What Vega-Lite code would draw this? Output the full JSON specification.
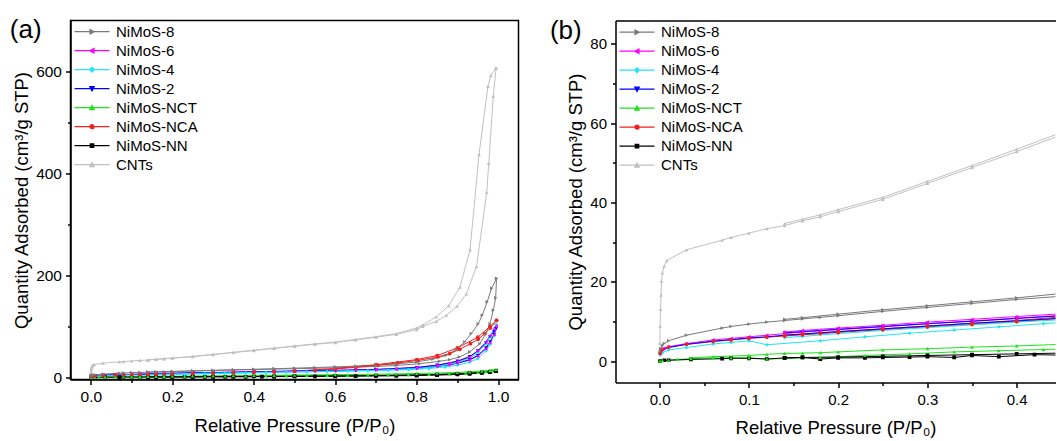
{
  "$schema": "https://vega.github.io/schema/vega-lite/v6.json",
  "background": "white",
  "padding": {"left": 8.5, "top": 16.5, "right": 0, "bottom": 0},
  "config": {
    "font": "Liberation Sans",
    "view": {"stroke": "black", "strokeWidth": 1.5},
    "axis": {"grid": false, "domainColor": "black", "domainWidth": 1.5, "tickColor": "black", "tickWidth": 1.5, "labelColor": "black", "titleColor": "black", "titleFontWeight": "normal", "titleFontSize": 18.5, "labelFontSize": 15.5, "labelFont": "Liberation Sans", "titleFont": "Liberation Sans"},
    "legend": {"labelFont": "Liberation Sans", "labelFontSize": 15, "labelColor": "black"}
  },
  "datasets": {
    "iso": [
      {"s":"CNTs","b":"a","p":0.0002,"q":4.6},{"s":"CNTs","b":"a","p":0.0005,"q":8.9},{"s":"CNTs","b":"a","p":0.001,"q":13.1},{"s":"CNTs","b":"a","p":0.0015,"q":16.7},{"s":"CNTs","b":"a","p":0.002,"q":20.2},{"s":"CNTs","b":"a","p":0.003,"q":22.3},{"s":"CNTs","b":"a","p":0.005,"q":24.0},{"s":"CNTs","b":"a","p":0.008,"q":25.4},{"s":"CNTs","b":"a","p":0.03,"q":28.1},{"s":"CNTs","b":"a","p":0.07,"q":30.5},{"s":"CNTs","b":"a","p":0.08,"q":31.2},{"s":"CNTs","b":"a","p":0.1,"q":32.3},{"s":"CNTs","b":"a","p":0.12,"q":33.4},{"s":"CNTs","b":"a","p":0.14,"q":34.2},{"s":"CNTs","b":"a","p":0.16,"q":35.4},{"s":"CNTs","b":"a","p":0.18,"q":36.4},{"s":"CNTs","b":"a","p":0.2,"q":37.7},{"s":"CNTs","b":"a","p":0.25,"q":40.8},{"s":"CNTs","b":"a","p":0.3,"q":44.8},{"s":"CNTs","b":"a","p":0.35,"q":48.8},{"s":"CNTs","b":"a","p":0.4,"q":52.8},{"s":"CNTs","b":"a","p":0.45,"q":57.0},{"s":"CNTs","b":"a","p":0.5,"q":61.0},{"s":"CNTs","b":"a","p":0.55,"q":65.0},{"s":"CNTs","b":"a","p":0.6,"q":68.5},{"s":"CNTs","b":"a","p":0.65,"q":73.5},{"s":"CNTs","b":"a","p":0.7,"q":79.0},{"s":"CNTs","b":"a","p":0.75,"q":84.5},{"s":"CNTs","b":"a","p":0.8,"q":94},{"s":"CNTs","b":"a","p":0.815,"q":100},{"s":"CNTs","b":"a","p":0.848,"q":110},{"s":"CNTs","b":"a","p":0.873,"q":122},{"s":"CNTs","b":"a","p":0.899,"q":140},{"s":"CNTs","b":"a","p":0.922,"q":164},{"s":"CNTs","b":"a","p":0.947,"q":218},{"s":"CNTs","b":"a","p":0.972,"q":363},{"s":"CNTs","b":"a","p":0.977,"q":420},{"s":"CNTs","b":"a","p":0.988,"q":551},{"s":"CNTs","b":"a","p":0.995,"q":607},
      {"s":"CNTs","b":"d","p":0.995,"q":607},{"s":"CNTs","b":"d","p":0.982,"q":592},{"s":"CNTs","b":"d","p":0.975,"q":571},{"s":"CNTs","b":"d","p":0.953,"q":437},{"s":"CNTs","b":"d","p":0.931,"q":250},{"s":"CNTs","b":"d","p":0.906,"q":177},{"s":"CNTs","b":"d","p":0.879,"q":141},{"s":"CNTs","b":"d","p":0.848,"q":118.6},{"s":"CNTs","b":"d","p":0.815,"q":103},{"s":"CNTs","b":"d","p":0.8,"q":97},{"s":"CNTs","b":"d","p":0.75,"q":86},{"s":"CNTs","b":"d","p":0.7,"q":80},{"s":"CNTs","b":"d","p":0.65,"q":74.5},{"s":"CNTs","b":"d","p":0.6,"q":69.5},{"s":"CNTs","b":"d","p":0.55,"q":65.8},{"s":"CNTs","b":"d","p":0.5,"q":61.8},{"s":"CNTs","b":"d","p":0.45,"q":57.6},{"s":"CNTs","b":"d","p":0.4,"q":53.4},{"s":"CNTs","b":"d","p":0.35,"q":49.3},{"s":"CNTs","b":"d","p":0.3,"q":45.3},{"s":"CNTs","b":"d","p":0.25,"q":41.3},{"s":"CNTs","b":"d","p":0.2,"q":38.2},{"s":"CNTs","b":"d","p":0.18,"q":36.9},{"s":"CNTs","b":"d","p":0.16,"q":35.8},{"s":"CNTs","b":"d","p":0.14,"q":34.7},

      {"s":"NiMoS-8","b":"a","p":0.0005,"q":2.5},{"s":"NiMoS-8","b":"a","p":0.001,"q":3.2},{"s":"NiMoS-8","b":"a","p":0.003,"q":4.0},{"s":"NiMoS-8","b":"a","p":0.005,"q":4.5},{"s":"NiMoS-8","b":"a","p":0.01,"q":5.2},{"s":"NiMoS-8","b":"a","p":0.03,"q":6.6},{"s":"NiMoS-8","b":"a","p":0.07,"q":8.4},{"s":"NiMoS-8","b":"a","p":0.08,"q":8.8},{"s":"NiMoS-8","b":"a","p":0.1,"q":9.4},{"s":"NiMoS-8","b":"a","p":0.12,"q":9.9},{"s":"NiMoS-8","b":"a","p":0.14,"q":10.3},{"s":"NiMoS-8","b":"a","p":0.16,"q":10.7},{"s":"NiMoS-8","b":"a","p":0.18,"q":11.1},{"s":"NiMoS-8","b":"a","p":0.2,"q":11.5},{"s":"NiMoS-8","b":"a","p":0.25,"q":12.6},{"s":"NiMoS-8","b":"a","p":0.3,"q":13.6},{"s":"NiMoS-8","b":"a","p":0.35,"q":14.6},{"s":"NiMoS-8","b":"a","p":0.4,"q":15.6},{"s":"NiMoS-8","b":"a","p":0.45,"q":16.4},{"s":"NiMoS-8","b":"a","p":0.5,"q":17.2},{"s":"NiMoS-8","b":"a","p":0.55,"q":18.0},{"s":"NiMoS-8","b":"a","p":0.6,"q":19.0},{"s":"NiMoS-8","b":"a","p":0.65,"q":20.2},{"s":"NiMoS-8","b":"a","p":0.7,"q":21.6},{"s":"NiMoS-8","b":"a","p":0.75,"q":23.5},{"s":"NiMoS-8","b":"a","p":0.807,"q":27},{"s":"NiMoS-8","b":"a","p":0.856,"q":31.7},{"s":"NiMoS-8","b":"a","p":0.881,"q":34.9},{"s":"NiMoS-8","b":"a","p":0.905,"q":40.2},{"s":"NiMoS-8","b":"a","p":0.93,"q":50},{"s":"NiMoS-8","b":"a","p":0.955,"q":66},{"s":"NiMoS-8","b":"a","p":0.97,"q":86},{"s":"NiMoS-8","b":"a","p":0.98,"q":105},{"s":"NiMoS-8","b":"a","p":0.988,"q":132},{"s":"NiMoS-8","b":"a","p":0.994,"q":156},{"s":"NiMoS-8","b":"a","p":0.996,"q":194},
      {"s":"NiMoS-8","b":"d","p":0.996,"q":194},{"s":"NiMoS-8","b":"d","p":0.984,"q":175},{"s":"NiMoS-8","b":"d","p":0.973,"q":148},{"s":"NiMoS-8","b":"d","p":0.961,"q":122},{"s":"NiMoS-8","b":"d","p":0.951,"q":105},{"s":"NiMoS-8","b":"d","p":0.934,"q":86},{"s":"NiMoS-8","b":"d","p":0.918,"q":70},{"s":"NiMoS-8","b":"d","p":0.897,"q":55},{"s":"NiMoS-8","b":"d","p":0.872,"q":43.5},{"s":"NiMoS-8","b":"d","p":0.84,"q":36},{"s":"NiMoS-8","b":"d","p":0.8,"q":30.4},{"s":"NiMoS-8","b":"d","p":0.75,"q":26.5},{"s":"NiMoS-8","b":"d","p":0.7,"q":24},{"s":"NiMoS-8","b":"d","p":0.65,"q":22.2},{"s":"NiMoS-8","b":"d","p":0.6,"q":20.8},{"s":"NiMoS-8","b":"d","p":0.55,"q":19.5},{"s":"NiMoS-8","b":"d","p":0.5,"q":18.3},{"s":"NiMoS-8","b":"d","p":0.45,"q":17.1},{"s":"NiMoS-8","b":"d","p":0.4,"q":16.0},{"s":"NiMoS-8","b":"d","p":0.35,"q":15.0},{"s":"NiMoS-8","b":"d","p":0.3,"q":14.0},{"s":"NiMoS-8","b":"d","p":0.25,"q":13.0},{"s":"NiMoS-8","b":"d","p":0.2,"q":11.9},{"s":"NiMoS-8","b":"d","p":0.16,"q":11.0},{"s":"NiMoS-8","b":"d","p":0.14,"q":10.6},

      {"s":"NiMoS-NCA","b":"a","p":0.0005,"q":2.0},{"s":"NiMoS-NCA","b":"a","p":0.003,"q":3.0},{"s":"NiMoS-NCA","b":"a","p":0.01,"q":3.6},{"s":"NiMoS-NCA","b":"a","p":0.03,"q":4.3},{"s":"NiMoS-NCA","b":"a","p":0.06,"q":5.0},{"s":"NiMoS-NCA","b":"a","p":0.08,"q":5.4},{"s":"NiMoS-NCA","b":"a","p":0.1,"q":5.8},{"s":"NiMoS-NCA","b":"a","p":0.12,"q":6.1},{"s":"NiMoS-NCA","b":"a","p":0.14,"q":6.4},{"s":"NiMoS-NCA","b":"a","p":0.16,"q":6.7},{"s":"NiMoS-NCA","b":"a","p":0.18,"q":7.0},{"s":"NiMoS-NCA","b":"a","p":0.2,"q":7.3},{"s":"NiMoS-NCA","b":"a","p":0.25,"q":8.0},{"s":"NiMoS-NCA","b":"a","p":0.3,"q":8.7},{"s":"NiMoS-NCA","b":"a","p":0.35,"q":9.3},{"s":"NiMoS-NCA","b":"a","p":0.4,"q":10.0},{"s":"NiMoS-NCA","b":"a","p":0.45,"q":10.8},{"s":"NiMoS-NCA","b":"a","p":0.5,"q":12.0},{"s":"NiMoS-NCA","b":"a","p":0.55,"q":14.0},{"s":"NiMoS-NCA","b":"a","p":0.6,"q":16.5},{"s":"NiMoS-NCA","b":"a","p":0.651,"q":20.0},{"s":"NiMoS-NCA","b":"a","p":0.704,"q":24.0},{"s":"NiMoS-NCA","b":"a","p":0.753,"q":28.4},{"s":"NiMoS-NCA","b":"a","p":0.803,"q":33.5},{"s":"NiMoS-NCA","b":"a","p":0.852,"q":40.2},{"s":"NiMoS-NCA","b":"a","p":0.881,"q":46.6},{"s":"NiMoS-NCA","b":"a","p":0.906,"q":55.3},{"s":"NiMoS-NCA","b":"a","p":0.932,"q":66.2},{"s":"NiMoS-NCA","b":"a","p":0.951,"q":74.8},{"s":"NiMoS-NCA","b":"a","p":0.967,"q":85.8},{"s":"NiMoS-NCA","b":"a","p":0.981,"q":97},{"s":"NiMoS-NCA","b":"a","p":0.996,"q":112},
      {"s":"NiMoS-NCA","b":"d","p":0.996,"q":112},{"s":"NiMoS-NCA","b":"d","p":0.98,"q":100},{"s":"NiMoS-NCA","b":"d","p":0.95,"q":79},{"s":"NiMoS-NCA","b":"d","p":0.9,"q":58},{"s":"NiMoS-NCA","b":"d","p":0.85,"q":43},{"s":"NiMoS-NCA","b":"d","p":0.8,"q":35},{"s":"NiMoS-NCA","b":"d","p":0.7,"q":25},{"s":"NiMoS-NCA","b":"d","p":0.6,"q":17.5},{"s":"NiMoS-NCA","b":"d","p":0.5,"q":12.6},{"s":"NiMoS-NCA","b":"d","p":0.45,"q":11.2},{"s":"NiMoS-NCA","b":"d","p":0.4,"q":10.3},{"s":"NiMoS-NCA","b":"d","p":0.35,"q":9.6},{"s":"NiMoS-NCA","b":"d","p":0.3,"q":8.9},{"s":"NiMoS-NCA","b":"d","p":0.25,"q":8.2},{"s":"NiMoS-NCA","b":"d","p":0.2,"q":7.5},{"s":"NiMoS-NCA","b":"d","p":0.16,"q":6.9},{"s":"NiMoS-NCA","b":"d","p":0.14,"q":6.6},

      {"s":"NiMoS-6","b":"a","p":0.0005,"q":2.2},{"s":"NiMoS-6","b":"a","p":0.002,"q":2.8},{"s":"NiMoS-6","b":"a","p":0.005,"q":3.3},{"s":"NiMoS-6","b":"a","p":0.01,"q":3.7},{"s":"NiMoS-6","b":"a","p":0.03,"q":4.5},{"s":"NiMoS-6","b":"a","p":0.06,"q":5.4},{"s":"NiMoS-6","b":"a","p":0.08,"q":5.8},{"s":"NiMoS-6","b":"a","p":0.1,"q":6.2},{"s":"NiMoS-6","b":"a","p":0.12,"q":6.6},{"s":"NiMoS-6","b":"a","p":0.14,"q":7.0},{"s":"NiMoS-6","b":"a","p":0.16,"q":7.4},{"s":"NiMoS-6","b":"a","p":0.18,"q":7.7},{"s":"NiMoS-6","b":"a","p":0.2,"q":8.0},{"s":"NiMoS-6","b":"a","p":0.25,"q":8.7},{"s":"NiMoS-6","b":"a","p":0.3,"q":9.5},{"s":"NiMoS-6","b":"a","p":0.35,"q":10.2},{"s":"NiMoS-6","b":"a","p":0.4,"q":10.9},{"s":"NiMoS-6","b":"a","p":0.45,"q":11.6},{"s":"NiMoS-6","b":"a","p":0.5,"q":12.2},{"s":"NiMoS-6","b":"a","p":0.55,"q":12.9},{"s":"NiMoS-6","b":"a","p":0.6,"q":13.6},{"s":"NiMoS-6","b":"a","p":0.65,"q":14.4},{"s":"NiMoS-6","b":"a","p":0.7,"q":15.3},{"s":"NiMoS-6","b":"a","p":0.75,"q":16.5},{"s":"NiMoS-6","b":"a","p":0.8,"q":18.5},{"s":"NiMoS-6","b":"a","p":0.85,"q":22},{"s":"NiMoS-6","b":"a","p":0.88,"q":25},{"s":"NiMoS-6","b":"a","p":0.9,"q":28},{"s":"NiMoS-6","b":"a","p":0.93,"q":34},{"s":"NiMoS-6","b":"a","p":0.95,"q":42},{"s":"NiMoS-6","b":"a","p":0.97,"q":56},{"s":"NiMoS-6","b":"a","p":0.98,"q":68},{"s":"NiMoS-6","b":"a","p":0.99,"q":84},{"s":"NiMoS-6","b":"a","p":0.995,"q":100},
      {"s":"NiMoS-6","b":"d","p":0.995,"q":100},{"s":"NiMoS-6","b":"d","p":0.99,"q":94},{"s":"NiMoS-6","b":"d","p":0.98,"q":82},{"s":"NiMoS-6","b":"d","p":0.97,"q":70},{"s":"NiMoS-6","b":"d","p":0.95,"q":52},{"s":"NiMoS-6","b":"d","p":0.93,"q":40},{"s":"NiMoS-6","b":"d","p":0.9,"q":31},{"s":"NiMoS-6","b":"d","p":0.88,"q":27.5},{"s":"NiMoS-6","b":"d","p":0.85,"q":24},{"s":"NiMoS-6","b":"d","p":0.8,"q":20},{"s":"NiMoS-6","b":"d","p":0.75,"q":17.5},{"s":"NiMoS-6","b":"d","p":0.7,"q":16},{"s":"NiMoS-6","b":"d","p":0.6,"q":14.2},{"s":"NiMoS-6","b":"d","p":0.5,"q":12.8},{"s":"NiMoS-6","b":"d","p":0.45,"q":12.0},{"s":"NiMoS-6","b":"d","p":0.4,"q":11.3},{"s":"NiMoS-6","b":"d","p":0.35,"q":10.6},{"s":"NiMoS-6","b":"d","p":0.3,"q":9.9},{"s":"NiMoS-6","b":"d","p":0.25,"q":9.1},{"s":"NiMoS-6","b":"d","p":0.2,"q":8.4},{"s":"NiMoS-6","b":"d","p":0.16,"q":7.8},{"s":"NiMoS-6","b":"d","p":0.14,"q":7.4},

      {"s":"NiMoS-2","b":"a","p":0.0005,"q":2.0},{"s":"NiMoS-2","b":"a","p":0.002,"q":2.6},{"s":"NiMoS-2","b":"a","p":0.005,"q":3.1},{"s":"NiMoS-2","b":"a","p":0.01,"q":3.5},{"s":"NiMoS-2","b":"a","p":0.03,"q":4.3},{"s":"NiMoS-2","b":"a","p":0.06,"q":5.1},{"s":"NiMoS-2","b":"a","p":0.08,"q":5.5},{"s":"NiMoS-2","b":"a","p":0.1,"q":5.9},{"s":"NiMoS-2","b":"a","p":0.12,"q":6.2},{"s":"NiMoS-2","b":"a","p":0.14,"q":6.6},{"s":"NiMoS-2","b":"a","p":0.16,"q":6.9},{"s":"NiMoS-2","b":"a","p":0.18,"q":7.2},{"s":"NiMoS-2","b":"a","p":0.2,"q":7.5},{"s":"NiMoS-2","b":"a","p":0.25,"q":8.2},{"s":"NiMoS-2","b":"a","p":0.3,"q":8.9},{"s":"NiMoS-2","b":"a","p":0.35,"q":9.6},{"s":"NiMoS-2","b":"a","p":0.4,"q":10.2},{"s":"NiMoS-2","b":"a","p":0.45,"q":10.9},{"s":"NiMoS-2","b":"a","p":0.5,"q":11.5},{"s":"NiMoS-2","b":"a","p":0.55,"q":12.1},{"s":"NiMoS-2","b":"a","p":0.6,"q":12.8},{"s":"NiMoS-2","b":"a","p":0.65,"q":13.6},{"s":"NiMoS-2","b":"a","p":0.7,"q":14.5},{"s":"NiMoS-2","b":"a","p":0.75,"q":15.8},{"s":"NiMoS-2","b":"a","p":0.8,"q":17.8},{"s":"NiMoS-2","b":"a","p":0.85,"q":21.5},{"s":"NiMoS-2","b":"a","p":0.88,"q":25},{"s":"NiMoS-2","b":"a","p":0.9,"q":28},{"s":"NiMoS-2","b":"a","p":0.93,"q":35},{"s":"NiMoS-2","b":"a","p":0.95,"q":43},{"s":"NiMoS-2","b":"a","p":0.97,"q":58},{"s":"NiMoS-2","b":"a","p":0.98,"q":70},{"s":"NiMoS-2","b":"a","p":0.99,"q":84},{"s":"NiMoS-2","b":"a","p":0.995,"q":96},
      {"s":"NiMoS-2","b":"d","p":0.995,"q":96},{"s":"NiMoS-2","b":"d","p":0.99,"q":90},{"s":"NiMoS-2","b":"d","p":0.98,"q":80},{"s":"NiMoS-2","b":"d","p":0.97,"q":68},{"s":"NiMoS-2","b":"d","p":0.95,"q":52},{"s":"NiMoS-2","b":"d","p":0.93,"q":41},{"s":"NiMoS-2","b":"d","p":0.9,"q":32},{"s":"NiMoS-2","b":"d","p":0.85,"q":24},{"s":"NiMoS-2","b":"d","p":0.8,"q":19.5},{"s":"NiMoS-2","b":"d","p":0.7,"q":15.5},{"s":"NiMoS-2","b":"d","p":0.6,"q":13.6},{"s":"NiMoS-2","b":"d","p":0.5,"q":12.2},{"s":"NiMoS-2","b":"d","p":0.45,"q":11.5},{"s":"NiMoS-2","b":"d","p":0.4,"q":10.8},{"s":"NiMoS-2","b":"d","p":0.35,"q":10.1},{"s":"NiMoS-2","b":"d","p":0.3,"q":9.5},{"s":"NiMoS-2","b":"d","p":0.25,"q":8.8},{"s":"NiMoS-2","b":"d","p":0.2,"q":8.1},{"s":"NiMoS-2","b":"d","p":0.16,"q":7.5},{"s":"NiMoS-2","b":"d","p":0.14,"q":7.2},

      {"s":"NiMoS-4","b":"a","p":0.0005,"q":1.6},{"s":"NiMoS-4","b":"a","p":0.003,"q":2.2},{"s":"NiMoS-4","b":"a","p":0.01,"q":2.9},{"s":"NiMoS-4","b":"a","p":0.03,"q":3.5},{"s":"NiMoS-4","b":"a","p":0.06,"q":4.4},{"s":"NiMoS-4","b":"a","p":0.08,"q":4.8},{"s":"NiMoS-4","b":"a","p":0.1,"q":5.2},{"s":"NiMoS-4","b":"a","p":0.12,"q":4.2},{"s":"NiMoS-4","b":"a","p":0.18,"q":5.2},{"s":"NiMoS-4","b":"a","p":0.23,"q":6.2},{"s":"NiMoS-4","b":"a","p":0.28,"q":7.1},{"s":"NiMoS-4","b":"a","p":0.33,"q":7.9},{"s":"NiMoS-4","b":"a","p":0.38,"q":8.7},{"s":"NiMoS-4","b":"a","p":0.43,"q":9.5},{"s":"NiMoS-4","b":"a","p":0.48,"q":10.2},{"s":"NiMoS-4","b":"a","p":0.53,"q":10.9},{"s":"NiMoS-4","b":"a","p":0.58,"q":11.6},{"s":"NiMoS-4","b":"a","p":0.63,"q":12.3},{"s":"NiMoS-4","b":"a","p":0.68,"q":13.1},{"s":"NiMoS-4","b":"a","p":0.73,"q":14.0},{"s":"NiMoS-4","b":"a","p":0.78,"q":15.2},{"s":"NiMoS-4","b":"a","p":0.83,"q":17.5},{"s":"NiMoS-4","b":"a","p":0.87,"q":20.5},{"s":"NiMoS-4","b":"a","p":0.9,"q":24},{"s":"NiMoS-4","b":"a","p":0.93,"q":30},{"s":"NiMoS-4","b":"a","p":0.95,"q":37},{"s":"NiMoS-4","b":"a","p":0.97,"q":52},{"s":"NiMoS-4","b":"a","p":0.98,"q":65},{"s":"NiMoS-4","b":"a","p":0.99,"q":82},{"s":"NiMoS-4","b":"a","p":0.995,"q":104},
      {"s":"NiMoS-4","b":"d","p":0.995,"q":104},{"s":"NiMoS-4","b":"d","p":0.99,"q":96},{"s":"NiMoS-4","b":"d","p":0.98,"q":80},{"s":"NiMoS-4","b":"d","p":0.97,"q":66},{"s":"NiMoS-4","b":"d","p":0.95,"q":48},{"s":"NiMoS-4","b":"d","p":0.93,"q":38},{"s":"NiMoS-4","b":"d","p":0.9,"q":29},{"s":"NiMoS-4","b":"d","p":0.85,"q":21.5},{"s":"NiMoS-4","b":"d","p":0.8,"q":17.5},{"s":"NiMoS-4","b":"d","p":0.7,"q":14.2},{"s":"NiMoS-4","b":"d","p":0.6,"q":12.5},{"s":"NiMoS-4","b":"d","p":0.5,"q":11.2},{"s":"NiMoS-4","b":"d","p":0.45,"q":10.5},{"s":"NiMoS-4","b":"d","p":0.4,"q":9.9},{"s":"NiMoS-4","b":"d","p":0.35,"q":9.2},{"s":"NiMoS-4","b":"d","p":0.3,"q":8.5},{"s":"NiMoS-4","b":"d","p":0.25,"q":7.8},{"s":"NiMoS-4","b":"d","p":0.2,"q":7.0},{"s":"NiMoS-4","b":"d","p":0.16,"q":6.3},{"s":"NiMoS-4","b":"d","p":0.14,"q":6.0},

      {"s":"NiMoS-NCT","b":"a","p":0.0005,"q":0.1},{"s":"NiMoS-NCT","b":"a","p":0.003,"q":0.2},{"s":"NiMoS-NCT","b":"a","p":0.01,"q":0.3},{"s":"NiMoS-NCT","b":"a","p":0.02,"q":0.5},{"s":"NiMoS-NCT","b":"a","p":0.035,"q":0.7},{"s":"NiMoS-NCT","b":"a","p":0.06,"q":0.9},{"s":"NiMoS-NCT","b":"a","p":0.08,"q":0.9},{"s":"NiMoS-NCT","b":"a","p":0.1,"q":0.9},{"s":"NiMoS-NCT","b":"a","p":0.12,"q":0.6},{"s":"NiMoS-NCT","b":"a","p":0.18,"q":1.0},{"s":"NiMoS-NCT","b":"a","p":0.23,"q":1.5},{"s":"NiMoS-NCT","b":"a","p":0.28,"q":1.9},{"s":"NiMoS-NCT","b":"a","p":0.33,"q":2.4},{"s":"NiMoS-NCT","b":"a","p":0.38,"q":2.7},{"s":"NiMoS-NCT","b":"a","p":0.43,"q":3.0},{"s":"NiMoS-NCT","b":"a","p":0.48,"q":3.3},{"s":"NiMoS-NCT","b":"a","p":0.53,"q":3.6},{"s":"NiMoS-NCT","b":"a","p":0.58,"q":3.9},{"s":"NiMoS-NCT","b":"a","p":0.63,"q":4.2},{"s":"NiMoS-NCT","b":"a","p":0.68,"q":4.6},{"s":"NiMoS-NCT","b":"a","p":0.73,"q":5.0},{"s":"NiMoS-NCT","b":"a","p":0.78,"q":5.5},{"s":"NiMoS-NCT","b":"a","p":0.83,"q":6.2},{"s":"NiMoS-NCT","b":"a","p":0.88,"q":7.2},{"s":"NiMoS-NCT","b":"a","p":0.92,"q":8.5},{"s":"NiMoS-NCT","b":"a","p":0.95,"q":10},{"s":"NiMoS-NCT","b":"a","p":0.97,"q":11.5},{"s":"NiMoS-NCT","b":"a","p":0.985,"q":13},{"s":"NiMoS-NCT","b":"a","p":0.995,"q":16},
      {"s":"NiMoS-NCT","b":"d","p":0.995,"q":16},{"s":"NiMoS-NCT","b":"d","p":0.98,"q":14},{"s":"NiMoS-NCT","b":"d","p":0.96,"q":12.5},{"s":"NiMoS-NCT","b":"d","p":0.93,"q":11},{"s":"NiMoS-NCT","b":"d","p":0.9,"q":9.8},{"s":"NiMoS-NCT","b":"d","p":0.85,"q":8.6},{"s":"NiMoS-NCT","b":"d","p":0.8,"q":7.8},{"s":"NiMoS-NCT","b":"d","p":0.75,"q":7.0},{"s":"NiMoS-NCT","b":"d","p":0.7,"q":6.4},{"s":"NiMoS-NCT","b":"d","p":0.6,"q":5.5},{"s":"NiMoS-NCT","b":"d","p":0.5,"q":4.7},{"s":"NiMoS-NCT","b":"d","p":0.45,"q":4.3},{"s":"NiMoS-NCT","b":"d","p":0.4,"q":3.9},{"s":"NiMoS-NCT","b":"d","p":0.35,"q":3.6},{"s":"NiMoS-NCT","b":"d","p":0.3,"q":3.2},{"s":"NiMoS-NCT","b":"d","p":0.25,"q":2.9},{"s":"NiMoS-NCT","b":"d","p":0.2,"q":2.4},{"s":"NiMoS-NCT","b":"d","p":0.18,"q":2.2},{"s":"NiMoS-NCT","b":"d","p":0.16,"q":2.1},{"s":"NiMoS-NCT","b":"d","p":0.14,"q":2.0},{"s":"NiMoS-NCT","b":"d","p":0.12,"q":1.8},{"s":"NiMoS-NCT","b":"d","p":0.1,"q":1.5},{"s":"NiMoS-NCT","b":"d","p":0.06,"q":1.2},{"s":"NiMoS-NCT","b":"d","p":0.035,"q":0.9},

      {"s":"NiMoS-NN","b":"a","p":0.0005,"q":0.1},{"s":"NiMoS-NN","b":"a","p":0.005,"q":0.3},{"s":"NiMoS-NN","b":"a","p":0.01,"q":0.3},{"s":"NiMoS-NN","b":"a","p":0.035,"q":0.5},{"s":"NiMoS-NN","b":"a","p":0.07,"q":0.7},{"s":"NiMoS-NN","b":"a","p":0.08,"q":0.8},{"s":"NiMoS-NN","b":"a","p":0.1,"q":0.8},{"s":"NiMoS-NN","b":"a","p":0.12,"q":0.6},{"s":"NiMoS-NN","b":"a","p":0.14,"q":0.9},{"s":"NiMoS-NN","b":"a","p":0.16,"q":1.0},{"s":"NiMoS-NN","b":"a","p":0.18,"q":0.6},{"s":"NiMoS-NN","b":"a","p":0.2,"q":0.9},{"s":"NiMoS-NN","b":"a","p":0.23,"q":0.9},{"s":"NiMoS-NN","b":"a","p":0.25,"q":1.0},{"s":"NiMoS-NN","b":"a","p":0.28,"q":1.1},{"s":"NiMoS-NN","b":"a","p":0.3,"q":1.2},{"s":"NiMoS-NN","b":"a","p":0.33,"q":1.0},{"s":"NiMoS-NN","b":"a","p":0.35,"q":1.5},{"s":"NiMoS-NN","b":"a","p":0.38,"q":1.2},{"s":"NiMoS-NN","b":"a","p":0.42,"q":1.7},{"s":"NiMoS-NN","b":"a","p":0.45,"q":1.6},{"s":"NiMoS-NN","b":"a","p":0.5,"q":1.9},{"s":"NiMoS-NN","b":"a","p":0.55,"q":2.1},{"s":"NiMoS-NN","b":"a","p":0.6,"q":2.3},{"s":"NiMoS-NN","b":"a","p":0.65,"q":2.6},{"s":"NiMoS-NN","b":"a","p":0.7,"q":2.9},{"s":"NiMoS-NN","b":"a","p":0.75,"q":3.3},{"s":"NiMoS-NN","b":"a","p":0.8,"q":3.8},{"s":"NiMoS-NN","b":"a","p":0.85,"q":4.6},{"s":"NiMoS-NN","b":"a","p":0.9,"q":5.8},{"s":"NiMoS-NN","b":"a","p":0.93,"q":7},{"s":"NiMoS-NN","b":"a","p":0.96,"q":8.8},{"s":"NiMoS-NN","b":"a","p":0.98,"q":10.5},{"s":"NiMoS-NN","b":"a","p":0.995,"q":12.5},
      {"s":"NiMoS-NN","b":"d","p":0.995,"q":12.5},{"s":"NiMoS-NN","b":"d","p":0.98,"q":11.5},{"s":"NiMoS-NN","b":"d","p":0.96,"q":10},{"s":"NiMoS-NN","b":"d","p":0.93,"q":8.5},{"s":"NiMoS-NN","b":"d","p":0.9,"q":7.2},{"s":"NiMoS-NN","b":"d","p":0.85,"q":5.8},{"s":"NiMoS-NN","b":"d","p":0.8,"q":4.8},{"s":"NiMoS-NN","b":"d","p":0.7,"q":3.6},{"s":"NiMoS-NN","b":"d","p":0.6,"q":2.9},{"s":"NiMoS-NN","b":"d","p":0.5,"q":2.4},{"s":"NiMoS-NN","b":"d","p":0.45,"q":2.1},{"s":"NiMoS-NN","b":"d","p":0.4,"q":1.9},{"s":"NiMoS-NN","b":"d","p":0.35,"q":1.7},{"s":"NiMoS-NN","b":"d","p":0.3,"q":1.5},{"s":"NiMoS-NN","b":"d","p":0.25,"q":1.3},{"s":"NiMoS-NN","b":"d","p":0.2,"q":1.1},{"s":"NiMoS-NN","b":"d","p":0.16,"q":1.0},{"s":"NiMoS-NN","b":"d","p":0.14,"q":0.9}
    ]
  },
  "data": {"name": "iso"},
  "bounds": "flush",
  "spacing": 97,
  "resolve": {"scale": {"x": "independent", "y": "independent", "color": "independent"}, "legend": {"color": "independent"}},
  "hconcat": [
    {
      "width": 448,
      "height": 359,
      "layer": [
        {
          "mark": {"type": "line", "strokeWidth": 1, "clip": true},
          "encoding": {
            "x": {"field": "p", "type": "quantitative", "scale": {"domain": [-0.05, 1.05], "nice": false, "zero": false},
                  "axis": {"values": [0,0.1,0.2,0.3,0.4,0.5,0.6,0.7,0.8,0.9,1], "format": ".1f", "labelExpr": "round(datum.value*10)%2==0 ? datum.label : ''", "tickSize": {"condition": {"test": "round(datum.value*10)%2==0", "value": 5}, "value": 3}, "labelPadding": 5, "title": "Relative Pressure (P/P₀)", "titlePadding": 11}},
            "y": {"field": "q", "type": "quantitative", "scale": {"domain": [-4, 700], "nice": false, "zero": false},
                  "axis": {"values": [0,100,200,300,400,500,600], "labelExpr": "datum.value%200==0 ? datum.label : ''", "tickSize": {"condition": {"test": "datum.value%200==0", "value": 5}, "value": 3}, "labelPadding": 4, "title": "Quantity Adsorbed (cm³/g STP)", "titlePadding": 4}},
            "detail": {"field": "b"},
            "color": {"field": "s", "type": "nominal",
                      "scale": {"domain": ["NiMoS-8","NiMoS-6","NiMoS-4","NiMoS-2","NiMoS-NCT","NiMoS-NCA","NiMoS-NN","CNTs"], "range": ["#7a7a7a","#ff00ff","#1fe5f5","#0000ff","#1de31d","#f02020","#000000","#c0c0c0"]},
                      "legend": {"orient": "none", "legendX": 1.5, "legendY": 3.7, "title": null, "symbolSize": 100, "symbolStrokeWidth": 1.2, "labelOffset": 29, "rowPadding": 3, "labelFontSize": 15,
                                 "encode": {"symbols": {"update": {
                                   "shape": {"signal": "{'NiMoS-8':'M-1,0H6M2.1,-0.45L2.95,0L2.1,0.45Z','NiMoS-6':'M-1,0H6M2.9,-0.45L2.05,0L2.9,0.45Z','NiMoS-4':'M-1,0H6M2.5,-0.5L2.95,0L2.5,0.5L2.05,0Z','NiMoS-2':'M-1,0H6M2.05,-0.4L2.95,-0.4L2.5,0.45Z','NiMoS-NCT':'M-1,0H6M2.05,0.4L2.95,0.4L2.5,-0.45Z','NiMoS-NCA':'M-1,0H6M2.1,0A0.4,0.4 0 1,0 2.9,0A0.4,0.4 0 1,0 2.1,0Z','NiMoS-NN':'M-1,0H6M2.15,-0.35H2.85V0.35H2.15Z','CNTs':'M-1,0H6M2.05,0.4L2.95,0.4L2.5,-0.45Z'}[datum.value]"},
                                   "fill": {"signal": "{'NiMoS-8':'#7a7a7a','NiMoS-6':'#ff00ff','NiMoS-4':'#1fe5f5','NiMoS-2':'#0000ff','NiMoS-NCT':'#1de31d','NiMoS-NCA':'#f02020','NiMoS-NN':'#000000','CNTs':'#c0c0c0'}[datum.value]"}
                                 }}}}}
          }
        },
        {"transform": [{"filter": "datum.s=='CNTs'"}], "mark": {"type": "point", "shape": "triangle-up", "color": "#c0c0c0", "filled": true, "size": 14, "opacity": 1, "clip": true}, "encoding": {"x": {"field": "p", "type": "quantitative"}, "y": {"field": "q", "type": "quantitative"}}},
        {"transform": [{"filter": "datum.s=='NiMoS-NN'"}], "mark": {"type": "point", "shape": "square", "color": "#000000", "filled": true, "size": 14, "opacity": 1, "clip": true}, "encoding": {"x": {"field": "p", "type": "quantitative"}, "y": {"field": "q", "type": "quantitative"}}},
        {"transform": [{"filter": "datum.s=='NiMoS-NCT'"}], "mark": {"type": "point", "shape": "triangle-up", "color": "#1de31d", "filled": true, "size": 14, "opacity": 1, "clip": true}, "encoding": {"x": {"field": "p", "type": "quantitative"}, "y": {"field": "q", "type": "quantitative"}}},
        {"transform": [{"filter": "datum.s=='NiMoS-4'"}], "mark": {"type": "point", "shape": "diamond", "color": "#1fe5f5", "filled": true, "size": 14, "opacity": 1, "clip": true}, "encoding": {"x": {"field": "p", "type": "quantitative"}, "y": {"field": "q", "type": "quantitative"}}},
        {"transform": [{"filter": "datum.s=='NiMoS-2'"}], "mark": {"type": "point", "shape": "triangle-down", "color": "#0000ff", "filled": true, "size": 14, "opacity": 1, "clip": true}, "encoding": {"x": {"field": "p", "type": "quantitative"}, "y": {"field": "q", "type": "quantitative"}}},
        {"transform": [{"filter": "datum.s=='NiMoS-6'"}], "mark": {"type": "point", "shape": "triangle-left", "color": "#ff00ff", "filled": true, "size": 14, "opacity": 1, "clip": true}, "encoding": {"x": {"field": "p", "type": "quantitative"}, "y": {"field": "q", "type": "quantitative"}}},
        {"transform": [{"filter": "datum.s=='NiMoS-NCA'"}], "mark": {"type": "point", "shape": "circle", "color": "#f02020", "filled": true, "size": 14, "opacity": 1, "clip": true}, "encoding": {"x": {"field": "p", "type": "quantitative"}, "y": {"field": "q", "type": "quantitative"}}},
        {"transform": [{"filter": "datum.s=='NiMoS-8'"}], "mark": {"type": "point", "shape": "triangle-right", "color": "#7a7a7a", "filled": true, "size": 14, "opacity": 1, "clip": true}, "encoding": {"x": {"field": "p", "type": "quantitative"}, "y": {"field": "q", "type": "quantitative"}}},
        {"data": {"values": [{"t": "(a)"}]}, "mark": {"type": "text", "align": "left", "baseline": "alphabetic", "fontSize": 26, "font": "Liberation Sans", "color": "black", "clip": false},
         "encoding": {"x": {"datum": -0.199, "type": "quantitative"}, "y": {"datum": 665, "type": "quantitative"}, "text": {"field": "t"}}}
      ]
    },
    {
      "width": 440,
      "height": 362,
      "view": {"stroke": null},
      "resolve": {"axis": {"x": "independent"}},
      "layer": [
        {
          "mark": {"type": "line", "strokeWidth": 1, "clip": true},
          "encoding": {
            "x": {"field": "p", "type": "quantitative", "scale": {"domain": [-0.0495, 0.4435], "nice": false, "zero": false},
                  "axis": {"orient": "bottom", "values": [0,0.05,0.1,0.15,0.2,0.25,0.3,0.35,0.4], "format": ".1f", "labelExpr": "round(datum.value*20)%2==0 ? datum.label : ''", "tickSize": {"condition": {"test": "round(datum.value*20)%2==0", "value": 5}, "value": 3}, "labelPadding": 5, "labelFontSize": 15, "title": "Relative Pressure (P/P₀)", "titlePadding": 11}},
            "y": {"field": "q", "type": "quantitative", "scale": {"domain": [-5.3, 85.8], "nice": false, "zero": false},
                  "axis": {"values": [0,10,20,30,40,50,60,70,80], "labelExpr": "datum.value%20==0 ? datum.label : ''", "tickSize": {"condition": {"test": "datum.value%20==0", "value": 5}, "value": 3}, "labelPadding": 4, "labelFontSize": 15, "title": "Quantity Adsorbed (cm³/g STP)", "titlePadding": 4}},
            "detail": {"field": "b"},
            "color": {"field": "s", "type": "nominal",
                      "scale": {"domain": ["NiMoS-8","NiMoS-6","NiMoS-4","NiMoS-2","NiMoS-NCT","NiMoS-NCA","NiMoS-NN","CNTs"], "range": ["#7a7a7a","#ff00ff","#1fe5f5","#0000ff","#1de31d","#f02020","#000000","#c0c0c0"]},
                      "legend": {"orient": "none", "legendX": 1.5, "legendY": 4.2, "title": null, "symbolSize": 100, "symbolStrokeWidth": 1.2, "labelOffset": 29, "rowPadding": 3, "labelFontSize": 15,
                                 "encode": {"symbols": {"update": {
                                   "shape": {"signal": "{'NiMoS-8':'M-1,0H6M2.1,-0.45L2.95,0L2.1,0.45Z','NiMoS-6':'M-1,0H6M2.9,-0.45L2.05,0L2.9,0.45Z','NiMoS-4':'M-1,0H6M2.5,-0.5L2.95,0L2.5,0.5L2.05,0Z','NiMoS-2':'M-1,0H6M2.05,-0.4L2.95,-0.4L2.5,0.45Z','NiMoS-NCT':'M-1,0H6M2.05,0.4L2.95,0.4L2.5,-0.45Z','NiMoS-NCA':'M-1,0H6M2.1,0A0.4,0.4 0 1,0 2.9,0A0.4,0.4 0 1,0 2.1,0Z','NiMoS-NN':'M-1,0H6M2.15,-0.35H2.85V0.35H2.15Z','CNTs':'M-1,0H6M2.05,0.4L2.95,0.4L2.5,-0.45Z'}[datum.value]"},
                                   "fill": {"signal": "{'NiMoS-8':'#7a7a7a','NiMoS-6':'#ff00ff','NiMoS-4':'#1fe5f5','NiMoS-2':'#0000ff','NiMoS-NCT':'#1de31d','NiMoS-NCA':'#f02020','NiMoS-NN':'#000000','CNTs':'#c0c0c0'}[datum.value]"}
                                 }}}}}
          }
        },
        {"transform": [{"filter": "datum.s=='CNTs'"}], "mark": {"type": "point", "shape": "triangle-up", "color": "#c0c0c0", "filled": true, "size": 14, "opacity": 1, "clip": true},
         "encoding": {"x": {"field": "p", "type": "quantitative", "axis": {"orient": "top", "labels": false, "ticks": false, "title": null, "domain": true}}, "y": {"field": "q", "type": "quantitative"}}},
        {"transform": [{"filter": "datum.s=='NiMoS-NN'"}], "mark": {"type": "point", "shape": "square", "color": "#000000", "filled": true, "size": 14, "opacity": 1, "clip": true},
         "encoding": {"x": {"field": "p", "type": "quantitative", "axis": null}, "y": {"field": "q", "type": "quantitative"}}},
        {"transform": [{"filter": "datum.s=='NiMoS-NCT'"}], "mark": {"type": "point", "shape": "triangle-up", "color": "#1de31d", "filled": true, "size": 14, "opacity": 1, "clip": true},
         "encoding": {"x": {"field": "p", "type": "quantitative", "axis": null}, "y": {"field": "q", "type": "quantitative"}}},
        {"transform": [{"filter": "datum.s=='NiMoS-4'"}], "mark": {"type": "point", "shape": "diamond", "color": "#1fe5f5", "filled": true, "size": 14, "opacity": 1, "clip": true},
         "encoding": {"x": {"field": "p", "type": "quantitative", "axis": null}, "y": {"field": "q", "type": "quantitative"}}},
        {"transform": [{"filter": "datum.s=='NiMoS-2'"}], "mark": {"type": "point", "shape": "triangle-down", "color": "#0000ff", "filled": true, "size": 14, "opacity": 1, "clip": true},
         "encoding": {"x": {"field": "p", "type": "quantitative", "axis": null}, "y": {"field": "q", "type": "quantitative"}}},
        {"transform": [{"filter": "datum.s=='NiMoS-6'"}], "mark": {"type": "point", "shape": "triangle-left", "color": "#ff00ff", "filled": true, "size": 14, "opacity": 1, "clip": true},
         "encoding": {"x": {"field": "p", "type": "quantitative", "axis": null}, "y": {"field": "q", "type": "quantitative"}}},
        {"transform": [{"filter": "datum.s=='NiMoS-NCA'"}], "mark": {"type": "point", "shape": "circle", "color": "#f02020", "filled": true, "size": 14, "opacity": 1, "clip": true},
         "encoding": {"x": {"field": "p", "type": "quantitative", "axis": null}, "y": {"field": "q", "type": "quantitative"}}},
        {"transform": [{"filter": "datum.s=='NiMoS-8'"}], "mark": {"type": "point", "shape": "triangle-right", "color": "#7a7a7a", "filled": true, "size": 14, "opacity": 1, "clip": true},
         "encoding": {"x": {"field": "p", "type": "quantitative", "axis": null}, "y": {"field": "q", "type": "quantitative"}}},
        {"data": {"values": [{"t": "(b)"}]}, "mark": {"type": "text", "align": "left", "baseline": "alphabetic", "fontSize": 26, "font": "Liberation Sans", "color": "black", "clip": false},
         "encoding": {"x": {"datum": -0.123, "type": "quantitative", "axis": null}, "y": {"datum": 81.2, "type": "quantitative"}, "text": {"field": "t"}}}
      ]
    }
  ]
}
